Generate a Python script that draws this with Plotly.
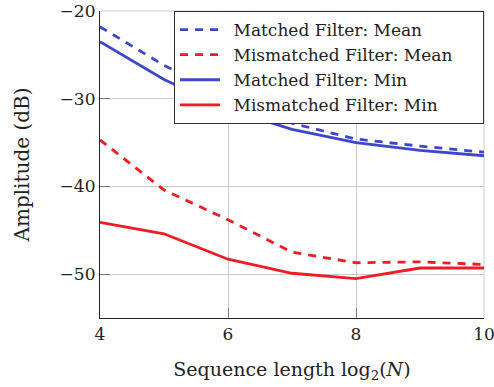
import plotly.graph_objects as go

x_log2n = [4, 5, 6, 7, 8, 9, 10]
matched_mean = [-21.8, -26.2, -29.8, -32.8, -34.6, -35.4, -36.1]
mismatched_mean = [-34.7, -40.4, -43.8, -47.5, -48.7, -48.6, -48.9]
matched_min = [-23.5, -27.8, -31.2, -33.5, -35.0, -35.9, -36.5]
mismatched_min = [-44.1, -45.4, -48.3, -49.9, -50.5, -49.3, -49.3]
series_names = ["Matched Filter: Mean", "Mismatched Filter: Mean",
                "Matched Filter: Min", "Mismatched Filter: Min"]

x_ticks = [4, 6, 8, 10]
y_ticks = [-20, -30, -40, -50]

BLUE = "rgb(62,70,206)"
RED = "rgb(238,28,36)"
FONT = "DejaVu Serif"
TXT = "#222"
LW = 2.8
DASH = "8px,7px"


def label(s):
    return "\u2002" + s + "\u2003\u2002"


fig = go.Figure()
fig.add_trace(go.Scatter(x=x_log2n, y=matched_mean, mode="lines", name=label(series_names[0]),
                         line=dict(color=BLUE, width=LW, dash=DASH)))
fig.add_trace(go.Scatter(x=x_log2n, y=mismatched_mean, mode="lines", name=label(series_names[1]),
                         line=dict(color=RED, width=LW, dash=DASH)))
fig.add_trace(go.Scatter(x=x_log2n, y=matched_min, mode="lines", name=label(series_names[2]),
                         line=dict(color=BLUE, width=LW)))
fig.add_trace(go.Scatter(x=x_log2n, y=mismatched_min, mode="lines", name=label(series_names[3]),
                         line=dict(color=RED, width=LW)))

fig.update_layout(
    width=494, height=387,
    margin=dict(l=100, r=10, t=11, b=69, autoexpand=False),
    plot_bgcolor="white", paper_bgcolor="white",
    font=dict(family=FONT, size=17, color=TXT),
    showlegend=True,
    legend=dict(x=1, xanchor="right", y=1, yanchor="top",
                bgcolor="white", bordercolor="#333", borderwidth=1,
                font=dict(family=FONT, size=17, color=TXT),
                itemwidth=40, tracegroupgap=0),
    xaxis=dict(range=[4, 10], tickvals=x_ticks, showgrid=True, gridcolor="#cccccc", gridwidth=1,
               zeroline=False, showline=True, linecolor="#222", linewidth=1.2,
               ticks="inside", ticklen=10, tickcolor="#777", tickwidth=1, automargin=False,
               ticklabeloverflow="allow",
               tickfont=dict(family=FONT, size=17, color=TXT),
               title=dict(text="Sequence length log<sub>2</sub>(<i>N</i>)", standoff=20,
                          font=dict(family=FONT, size=19, color=TXT))),
    yaxis=dict(range=[-55, -20], tickvals=y_ticks, showgrid=True, gridcolor="#cccccc", gridwidth=1,
               zeroline=False, showline=True, linecolor="#222", linewidth=1.2,
               ticks="inside", ticklen=10, tickcolor="#777", tickwidth=1, automargin=False,
               ticklabeloverflow="allow",
               tickfont=dict(family=FONT, size=17, color=TXT),
               title=dict(text="Amplitude (dB)", standoff=24,
                          font=dict(family=FONT, size=20, color=TXT))),
)
fig.add_shape(type="line", xref="paper", yref="paper", x0=0, x1=1, y0=1, y1=1,
              line=dict(color="#cccccc", width=1), layer="below")
fig.add_shape(type="line", xref="paper", yref="paper", x0=1, x1=1, y0=0, y1=1,
              line=dict(color="#cccccc", width=1), layer="below")

fig.write_html("out.html", config={"displayModeBar": False},
               post_script="document.body.style.margin='0';")
